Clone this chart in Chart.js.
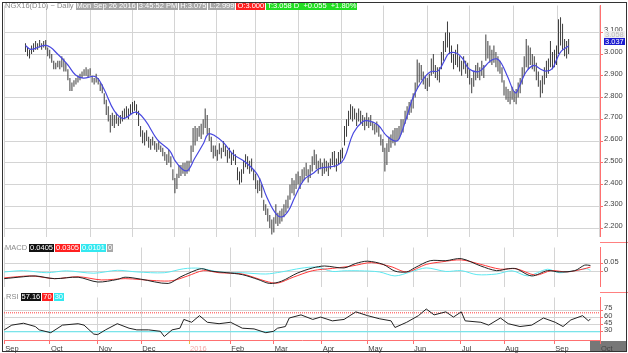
<!DOCTYPE html>
<html>
<head>
<meta charset="utf-8">
<script src="https://cdn.jsdelivr.net/npm/chart.js@4.4.0/dist/chart.umd.min.js"></script>
<style>
  body { margin:0; width:628px; height:353px; overflow:hidden; position:relative; background:#fff;
         font-family:"Liberation Sans", Arial, sans-serif; font-size:7.5px; }
  canvas { position:absolute; left:0; }
  .frame { position:absolute; left:2px; top:2px; width:625px; height:350px; border:1px solid #333;
           box-sizing:border-box; pointer-events:none; }
  .row { position:absolute; display:flex; gap:1px; white-space:nowrap; line-height:8px; }
  .row span { padding:0 1px; height:8px; }
  .lbl { color:#8a8a8a; }
  .g { background:#a8a8a8; color:#fff; }
  .k { background:#111; color:#fff; }
  .r { background:#ff2020; color:#fff; }
  .c { background:#33e8f0; color:#fff; }
  .gr { background:#22dd22; color:#fff; }
  .sep { position:absolute; left:600px; width:28px; height:1px; background:#ff8080; }
  .now { position:absolute; left:590px; top:341px; width:36px; height:10px; background:#777; }
  .tag { position:absolute; left:604px; padding:0 1px; line-height:7px; height:7px; }
</style>
</head>
<body>
<div class="now"></div>
<canvas id="price" width="628" height="242" style="top:0"></canvas>
<canvas id="macd" width="628" height="50" style="top:242px"></canvas>
<canvas id="rsi" width="628" height="61" style="top:292px"></canvas>
<div class="sep" style="top:242px"></div>
<div class="sep" style="top:292px"></div>

<div class="row" style="left:4px;top:2px">
  <span class="lbl">NGX16(D10) ~ Daily</span>
  <span class="g">Mon Sep 26 2016</span><span class="g">3:45:52 PM</span>
  <span class="g">H:3.075</span><span class="g">L:2.999</span>
  <span class="r">O:3.000</span><span class="gr">T:3.058 D &nbsp;+0.055 &nbsp;+1.80%</span>
</div>
<div class="row" style="left:4px;top:244px">
  <span class="lbl">MACD</span><span class="k">0.0405</span><span class="r">0.0305</span><span class="c">0.0101</span><span class="g">0</span>
</div>
<div class="row" style="left:5px;top:293px">
  <span class="lbl">RSI</span><span class="k">57.16</span><span class="r">70</span><span class="c">30</span>
</div>
<div class="tag" style="top:31px;color:#bbb;background:#eee">3.058</div>
<div class="tag" style="top:38px;color:#fff;background:#1c1cd0">3.037</div>
<div class="frame"></div>

<script>
// month ticks (trading-day index)
const monthIdx = [0, 21, 43, 63, 85, 104, 124, 146, 167, 188, 210, 230, 253, 274];
const monthLabels = ['Sep', 'Oct', 'Nov', 'Dec', '2016', 'Feb', 'Mar', 'Apr', 'May', 'Jun', 'Jul', 'Aug', 'Sep', 'Oct'];
const priceTicks = [2.2, 2.3, 2.4, 2.5, 2.6, 2.7, 2.8, 2.9, 3.0, 3.1];
const macdTicks = [0, 0.05];
const rsiTicks = [30, 45, 60, 75];

// daily bars Sep 1 2015 .. Sep 26 2016
const lows = [
  3.01, 2.99, 2.98, 3.00, 3.01, 3.02, 3.02, 3.03, 3.02, 3.03, 3.02, 2.99, 2.98, 2.96, 2.93, 2.93, 2.94, 2.93, 2.94, 2.92,
  2.92, 2.88, 2.83, 2.83, 2.85, 2.86, 2.87, 2.88, 2.89, 2.90, 2.90, 2.89, 2.90, 2.87, 2.86, 2.87, 2.86, 2.83, 2.82, 2.77,
  2.72, 2.69, 2.64, 2.67, 2.66, 2.68, 2.67, 2.68, 2.69, 2.70, 2.71, 2.70, 2.72, 2.73, 2.74, 2.72, 2.67, 2.62, 2.59, 2.58,
  2.60, 2.57, 2.56, 2.58, 2.56, 2.55, 2.56, 2.55, 2.53, 2.51, 2.49, 2.50, 2.48, 2.42, 2.36, 2.38, 2.43, 2.44, 2.45, 2.44,
  2.45, 2.46, 2.50, 2.55, 2.58, 2.60, 2.62, 2.61, 2.63, 2.66, 2.63, 2.60, 2.55, 2.52, 2.53, 2.51, 2.54, 2.52, 2.55, 2.53,
  2.50, 2.52, 2.49, 2.51, 2.49, 2.42, 2.40, 2.41, 2.45, 2.48, 2.47, 2.45, 2.46, 2.42, 2.38, 2.36, 2.37, 2.34, 2.28, 2.26,
  2.23, 2.20, 2.17, 2.18, 2.22, 2.21, 2.22, 2.23, 2.25, 2.27, 2.29, 2.33, 2.36, 2.35, 2.38, 2.40, 2.38, 2.41, 2.42, 2.44,
  2.41, 2.43, 2.46, 2.49, 2.47, 2.45, 2.47, 2.44, 2.45, 2.46, 2.44, 2.47, 2.49, 2.48, 2.46, 2.49, 2.50, 2.52, 2.58, 2.62,
  2.67, 2.70, 2.69, 2.70, 2.67, 2.69, 2.68, 2.67, 2.65, 2.67, 2.66, 2.67, 2.65, 2.63, 2.64, 2.62, 2.58, 2.55, 2.46, 2.49,
  2.55, 2.57, 2.59, 2.58, 2.60, 2.61, 2.63, 2.64, 2.68, 2.70, 2.72, 2.73, 2.75, 2.80, 2.84, 2.87, 2.88, 2.86, 2.84, 2.83,
  2.85, 2.90, 2.91, 2.89, 2.88, 2.87, 2.93, 2.97, 3.01, 3.03, 3.00, 2.96, 2.93, 2.95, 2.94, 2.92, 2.90, 2.93, 2.91, 2.89,
  2.86, 2.82, 2.85, 2.88, 2.89, 2.88, 2.90, 2.89, 2.97, 2.98, 2.96, 2.95, 2.96, 2.94, 2.92, 2.91, 2.87, 2.81, 2.79, 2.78,
  2.77, 2.79, 2.78, 2.77, 2.80, 2.82, 2.86, 2.90, 2.94, 2.93, 2.95, 2.93, 2.92, 2.88, 2.85, 2.80, 2.82, 2.86, 2.89, 2.91,
  2.94, 2.93, 2.94, 2.95, 3.00, 3.04, 3.02, 2.99, 2.98, 3.00
];
const highs = [
  3.05, 3.03, 3.02, 3.04, 3.05, 3.06, 3.05, 3.065, 3.05, 3.06, 3.065, 3.03, 3.02, 3.00, 2.97, 2.96, 2.97, 2.97, 2.99, 2.98,
  2.96, 2.93, 2.89, 2.87, 2.88, 2.89, 2.90, 2.91, 2.92, 2.93, 2.94, 2.93, 2.935, 2.90, 2.89, 2.91, 2.89, 2.87, 2.86, 2.82,
  2.79, 2.76, 2.72, 2.73, 2.72, 2.73, 2.71, 2.72, 2.74, 2.75, 2.76, 2.75, 2.77, 2.78, 2.785, 2.77, 2.74, 2.67, 2.65, 2.64,
  2.65, 2.62, 2.61, 2.62, 2.60, 2.59, 2.60, 2.58, 2.57, 2.55, 2.54, 2.56, 2.53, 2.47, 2.43, 2.45, 2.49, 2.49, 2.50, 2.50,
  2.51, 2.51, 2.58, 2.66, 2.67, 2.66, 2.67, 2.68, 2.70, 2.75, 2.72, 2.66, 2.62, 2.58, 2.58, 2.56, 2.59, 2.57, 2.60, 2.58,
  2.56, 2.57, 2.55, 2.56, 2.54, 2.48, 2.46, 2.47, 2.51, 2.54, 2.53, 2.51, 2.52, 2.47, 2.45, 2.42, 2.43, 2.40, 2.33, 2.31,
  2.29, 2.26, 2.24, 2.25, 2.31, 2.27, 2.28, 2.29, 2.31, 2.33, 2.35, 2.40, 2.43, 2.42, 2.45, 2.46, 2.44, 2.47, 2.48, 2.50,
  2.47, 2.49, 2.53, 2.56, 2.54, 2.51, 2.52, 2.50, 2.52, 2.51, 2.50, 2.52, 2.55, 2.555, 2.52, 2.55, 2.56, 2.57, 2.67, 2.70,
  2.74, 2.77, 2.76, 2.75, 2.73, 2.75, 2.74, 2.72, 2.71, 2.73, 2.71, 2.72, 2.69, 2.68, 2.69, 2.67, 2.63, 2.61, 2.57, 2.59,
  2.62, 2.63, 2.65, 2.66, 2.66, 2.67, 2.70, 2.70, 2.74, 2.76, 2.78, 2.79, 2.82, 2.87, 2.975, 2.96, 2.95, 2.92, 2.90, 2.89,
  2.91, 2.98, 3.00, 2.95, 2.94, 2.94, 3.01, 3.06, 3.10, 3.15, 3.10, 3.04, 3.00, 3.02, 3.045, 2.99, 2.97, 2.99, 2.97, 2.96,
  2.93, 2.89, 2.92, 2.95, 2.96, 2.94, 2.97, 2.95, 3.09, 3.06, 3.04, 3.02, 3.04, 3.01, 2.99, 2.97, 2.94, 2.88, 2.85, 2.84,
  2.83, 2.85, 2.83, 2.84, 2.87, 2.89, 2.94, 2.99, 3.07, 3.04, 3.03, 3.00, 2.99, 2.96, 2.92, 2.88, 2.90, 2.94, 2.97, 2.98,
  3.06, 3.01, 3.02, 3.04, 3.16, 3.17, 3.14, 3.07, 3.06, 3.07
];

// moving average (blue), read at these bar positions
const maIdx = [0, 2.7, 10.3, 16.4, 21, 24.8, 28.6, 34.7, 38.6, 43.9, 48.5, 54.6, 59.2, 65.3, 71.4, 74.5, 79.8, 83.7,
  88.2, 90.5, 93.6, 98.1, 102.8, 108.9, 115, 119.6, 124.2, 127.2, 130.3, 133.3, 137.9, 142.5, 145.6, 150.1, 154.7,
  157.8, 162.4, 166.9, 170, 174.6, 179.1, 183.8, 185.9, 189.1, 192.2, 196.7, 200.6, 204.4, 207.5, 209.7, 213.6, 216.6,
  219.6, 224.3, 227.3, 230.4, 233.5, 235.8, 238.8, 242.6, 244.9, 248, 251.8, 254.8, 257.9, 260.9, 263.2, 265.5, 269];
const maVals = [3.04, 3.022, 3.04, 2.996, 2.95, 2.904, 2.89, 2.896, 2.844, 2.74, 2.704, 2.733, 2.696, 2.607, 2.556, 2.504,
  2.463, 2.519, 2.59, 2.633, 2.626, 2.593, 2.54, 2.504, 2.444, 2.341, 2.264, 2.252, 2.281, 2.341, 2.422, 2.452, 2.474,
  2.481, 2.49, 2.519, 2.637, 2.689, 2.693, 2.674, 2.622, 2.6, 2.63, 2.719, 2.807, 2.881, 2.919, 2.923, 2.97, 3.003, 3.004,
  2.978, 2.933, 2.919, 2.941, 2.97, 2.978, 2.956, 2.896, 2.822, 2.859, 2.919, 2.948, 2.933, 2.922, 2.933, 2.978, 3.015, 3.037];

// MACD panel
const macdIdx = [0, 8.9, 14.3, 23.2, 34, 43, 52, 55.6, 62.8, 75.4, 80.8, 86.2, 90.7, 95.2, 102.4, 109.5, 116.7, 122.1,
  127.5, 134.7, 141.9, 147.3, 156.3, 161.7, 167.1, 174.3, 179.7, 185.1, 188.7, 195.9, 203.1, 210.2, 219.2, 226.4, 231.8,
  235.4, 242.6, 249.8, 255.2, 262.4, 266.9, 269.6];
const macdVals = [-0.042, -0.03, -0.025, -0.042, -0.033, -0.063, -0.047, -0.033, -0.045, -0.072, -0.033, 0, 0.02, 0.005,
  -0.005, -0.017, -0.047, -0.072, -0.058, -0.008, 0.025, 0.037, 0.025, 0.053, 0.067, 0.047, 0.005, 0, 0.025, 0.07, 0.07,
  0.083, 0.037, 0.008, 0.02, 0.02, -0.025, 0.008, 0, 0.008, 0.042, 0.0405];
const signalIdx = [0, 12.5, 23.2, 34, 44.8, 55.6, 70, 77.2, 84.4, 91.6, 98.8, 109.5, 120.3, 125.7, 132.9, 141.9, 150.9,
  159.9, 168.9, 177.9, 185.1, 194.1, 201.2, 210.2, 219.2, 228.2, 235.4, 244.4, 251.6, 258.8, 266, 269.6];
const signalVals = [-0.037, -0.025, -0.042, -0.03, -0.05, -0.042, -0.055, -0.055, -0.025, 0.008, -0.005, -0.013, -0.058,
  -0.07, -0.033, 0.008, 0.022, 0.037, 0.058, 0.033, 0, 0.047, 0.063, 0.075, 0.047, 0.017, 0.02, -0.02, 0.008, 0, 0.017, 0.0305];
const histIdx = [0, 8.9, 19.6, 28.6, 41.2, 52, 61, 73.6, 82.6, 89.8, 98.8, 109.5, 120.3, 127.5, 136.5, 143.7, 150.9, 156.3,
  163.5, 172.5, 179.7, 186.9, 194.1, 203.1, 210.2, 217.4, 226.4, 233.6, 240.8, 249.8, 255.2, 262.4, 267.8, 269.6];
const histVals = [0, 0.008, -0.005, 0.007, -0.008, 0.01, 0, -0.005, 0.02, 0.023, 0, -0.005, -0.013, 0, 0.023, 0.03, 0.003,
  0.007, 0.007, 0, -0.025, 0, 0.025, 0.003, 0.008, -0.017, -0.013, 0.007, -0.025, 0.017, -0.005, 0.008, 0.02, 0.0101];

// RSI panel
const rsiIdx = [0, 3.5, 8.9, 14.3, 16.1, 21.4, 26.8, 34, 36.7, 41.2, 43, 46.6, 52, 57.4, 61, 66.4, 71.8, 73.6, 77.2, 80.8,
  82.6, 86.2, 89.8, 93.4, 98.8, 104.1, 109.5, 114.9, 120.3, 123.9, 125.7, 129.3, 131.1, 136.5, 141.9, 145.5, 150.9,
  156.3, 161.7, 167.1, 172.5, 177.9, 179.7, 185.1, 190.5, 194.1, 197.7, 203.1, 206.6, 210.2, 212, 219.2, 222.8, 228.2,
  231.8, 237.2, 242.6, 248, 253.4, 257, 260.6, 266, 268.7, 269.6];
const rsiVals = [34, 44, 48, 41, 34, 28, 44, 47, 44, 25, 24, 34, 47, 37.5, 34, 34, 31, 20, 34, 37.5, 56, 50, 64, 50, 47, 50,
  37.5, 36, 28, 31, 37.5, 41, 59, 65.6, 56, 61, 53, 56, 72, 64, 57.5, 53, 39, 50, 64, 78, 65.6, 72, 61, 72, 53, 50, 44, 59,
  47, 41, 44, 59, 50, 41, 55, 64, 53, 57.16];
const rsiUpper = 70, rsiLower = 30;

Chart.defaults.font.family = '"Liberation Sans", Arial, sans-serif';
Chart.defaults.font.size = 7.5;
Chart.defaults.color = '#444';

const GRID = '#d4d4d4', AXIS = '#ff7070';
const xMin = -0.1, xMax = 274;

function pts(idx, vals) { return idx.map((x, k) => ({ x: x, y: vals[k] })); }

function xAxis(showLabels) {
  return {
    type: 'linear', min: xMin, max: xMax,
    afterBuildTicks: s => { s.ticks = monthIdx.map(v => ({ value: v })); },
    afterFit: s => { s.height = showLabels ? 13 : 0; },
    grid: { color: GRID, drawTicks: showLabels, tickLength: 4,
            tickColor: c => monthLabels[c.index] === '2016' ? '#e8c040' : AXIS },
    border: { display: showLabels, color: AXIS },
    ticks: { display: showLabels, align: 'start', padding: 0, labelOffset: 1, maxRotation: 0, autoSkip: false,
             color: c => monthLabels[c.index] === '2016' ? '#f4a8a8' : '#444',
             callback: (v, k) => monthLabels[k] }
  };
}

function yAxis(min, max, tickVals, fmt) {
  return {
    position: 'right', min: min, max: max,
    afterBuildTicks: s => { s.ticks = tickVals.map(v => ({ value: v })); },
    afterFit: s => { s.width = 28; },
    grid: { color: GRID, tickLength: 3, tickColor: AXIS },
    border: { color: AXIS },
    ticks: { padding: 1, labelOffset: -2, autoSkip: false, callback: fmt }
  };
}

const base = {
  responsive: false, animation: false,
  plugins: { legend: { display: false }, tooltip: { enabled: false } },
  elements: { point: { radius: 0 } }
};

new Chart(document.getElementById('price'), {
  type: 'bar',
  data: {
    datasets: [
      { type: 'line', order: 0, data: pts(maIdx, maVals), borderColor: '#4848e0', borderWidth: 1.2, tension: 0.4 },
      { type: 'bar', order: 1, data: highs.map((h, i) => ({ x: i, y: [lows[i], h] })),
        backgroundColor: '#3c3c3c', barThickness: 1, inflateAmount: 0, borderWidth: 0, grouped: false }
    ]
  },
  options: Object.assign({}, base, {
    layout: { padding: { left: 4, top: 3, right: 0, bottom: 0 } },
    scales: { x: xAxis(false), y: yAxis(2.1613, 3.2236, priceTicks, v => v.toFixed(3)) }
  })
});

new Chart(document.getElementById('macd'), {
  type: 'line',
  data: {
    datasets: [
      { data: pts(macdIdx, macdVals), borderColor: '#222', borderWidth: 1, tension: 0.3 },
      { data: pts(signalIdx, signalVals), borderColor: '#ff3a3a', borderWidth: 1, tension: 0.3 },
      { data: pts(histIdx, histVals), borderColor: '#5ee8f0', borderWidth: 1, tension: 0.3 }
    ]
  },
  options: Object.assign({}, base, {
    layout: { padding: { left: 4, top: 1, right: 0, bottom: 0 } },
    scales: { x: xAxis(false), y: yAxis(-0.091, 0.1525, macdTicks, v => v === 0 ? '0' : v.toFixed(2)) }
  })
});

new Chart(document.getElementById('rsi'), {
  type: 'line',
  data: {
    datasets: [
      { data: pts(rsiIdx, rsiVals), borderColor: '#222', borderWidth: 1, tension: 0 },
      { data: [{ x: xMin, y: rsiUpper }, { x: xMax, y: rsiUpper }], borderColor: '#ff4040', borderWidth: 1, borderDash: [1, 1] },
      { data: [{ x: xMin, y: rsiLower }, { x: xMax, y: rsiLower }], borderColor: '#5ee8f0', borderWidth: 1 }
    ]
  },
  options: Object.assign({}, base, {
    layout: { padding: { left: 4, top: 0, right: 0, bottom: 0 } },
    scales: { x: xAxis(true), y: yAxis(12.6, 102.3, rsiTicks, v => String(v)) }
  })
});
</script>
</body>
</html>
